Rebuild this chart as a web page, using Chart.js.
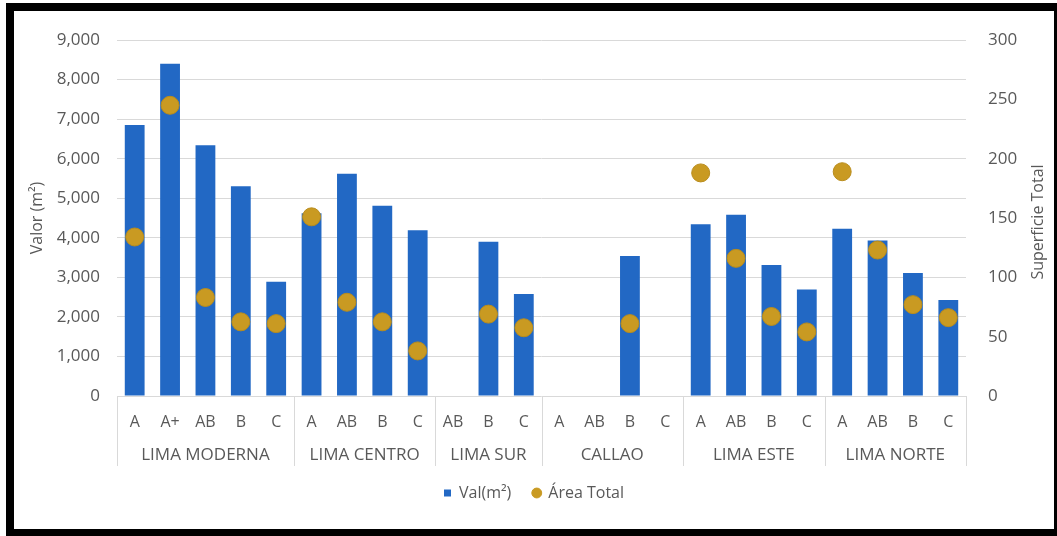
<!DOCTYPE html>
<html>
<head>
<meta charset="utf-8">
<script src="https://cdn.jsdelivr.net/npm/chart.js@4.4.1/dist/chart.umd.min.js"></script>
<style>
  html, body { margin: 0; padding: 0; background: #fff; }
  #wrap { position: relative; width: 1057px; height: 536px; overflow: hidden; }
  #frame {
    position: absolute; left: 6px; top: 3px; right: 0; bottom: 0;
    box-sizing: border-box; border-style: solid; border-color: #000;
    border-width: 8px 3px 7px 8px; pointer-events: none;
  }
</style>
</head>
<body>
<div id="wrap">
  <canvas id="c" width="1057" height="536"></canvas>
  <div id="frame"></div>
</div>
<script>
// Zones of Lima and how many grade columns each one has
const regions = ['LIMA MODERNA', 'LIMA CENTRO', 'LIMA SUR', 'CALLAO', 'LIMA ESTE', 'LIMA NORTE'];
const regionSizes = [5, 4, 3, 4, 4, 4];

// Grade of each column, in region order
const grades = ['A', 'A+', 'AB', 'B', 'C',
                'A', 'AB', 'B', 'C',
                'AB', 'B', 'C',
                'A', 'AB', 'B', 'C',
                'A', 'AB', 'B', 'C',
                'A', 'AB', 'B', 'C'];

// Value per m² (left axis)
const valM2 = [6850, 8400, 6340, 5300, 2890,
               4620, 5620, 4810, 4190,
               null, 3900, 2580,
               null, null, 3540, null,
               4340, 4580, 3310, 2690,
               4230, 3930, 3110, 2430];

// Total area (right axis)
const areaTotal = [134, 245, 83, 62.5, 61,
                   151, 79, 62.5, 38,
                   null, 69, 57.5,
                   null, null, 61, null,
                   188, 116, 67, 54,
                   189, 123, 77, 66];

const leftTicks = [0, 1000, 2000, 3000, 4000, 5000, 6000, 7000, 8000, 9000];
const rightTicks = [0, 50, 100, 150, 200, 250, 300];

const FONT = "'Open Sans', 'Noto Sans', sans-serif";
const TXT = '#595959';
const GRID = '#d9d9d9';
const BLUE = '#2268c4';
const GOLD = '#c99a22';

// Region labels, separators and the right-hand axis title
const groupAxis = {
  id: 'groupAxis',
  afterDraw(chart) {
    const ctx = chart.ctx;
    const x = chart.scales.x;
    const top = chart.chartArea.bottom;
    const lineBottom = 466;
    const half = (x.getPixelForValue(1) - x.getPixelForValue(0)) / 2;
    ctx.save();
    ctx.strokeStyle = GRID;
    ctx.lineWidth = 1;
    let idx = 0;
    const edges = [x.getPixelForValue(0) - half];
    regionSizes.forEach(n => { idx += n; edges.push(x.getPixelForValue(idx - 1) + half); });
    edges.forEach(px => {
      const p = Math.round(px) + 0.5;
      ctx.beginPath(); ctx.moveTo(p, top); ctx.lineTo(p, lineBottom); ctx.stroke();
    });
    ctx.fillStyle = TXT;
    ctx.font = '17px ' + FONT;
    ctx.textAlign = 'center';
    ctx.textBaseline = 'middle';
    regions.forEach((r, i) => {
      ctx.fillText(r, (edges[i] + edges[i + 1]) / 2, 455);
    });
    // right axis title, reading bottom to top
    ctx.translate(1038, (chart.chartArea.top + chart.chartArea.bottom) / 2 + 4);
    ctx.rotate(-Math.PI / 2);
    ctx.font = '16px ' + FONT;
    ctx.fillText('Superficie Total', 0, 0);
    ctx.restore();
  }
};

new Chart(document.getElementById('c'), {
  data: {
    labels: grades,
    datasets: [
      {
        type: 'bar',
        label: 'Val(m²)',
        data: valM2,
        yAxisID: 'y',
        backgroundColor: BLUE,
        barPercentage: 0.56,
        categoryPercentage: 1.0,
        order: 2
      },
      {
        type: 'line',
        label: 'Área Total',
        data: areaTotal,
        yAxisID: 'y1',
        showLine: false,
        pointRadius: 9,
        pointHoverRadius: 9,
        pointBackgroundColor: GOLD,
        pointBorderColor: '#b98c1c',
        pointBorderWidth: 1,
        backgroundColor: GOLD,
        borderColor: GOLD,
        order: 1
      }
    ]
  },
  options: {
    responsive: false,
    animation: false,
    layout: { padding: { left: 14, right: 3, top: 40, bottom: 25 } },
    plugins: {
      tooltip: { enabled: false },
      legend: {
        position: 'bottom',
        labels: {
          color: TXT,
          font: { family: FONT, size: 16 },
          usePointStyle: true,
          boxWidth: 7,
          boxHeight: 7,
          padding: 22,
          sort: (a, b) => a.datasetIndex - b.datasetIndex,
          generateLabels(chart) {
            const items = Chart.defaults.plugins.legend.labels.generateLabels(chart);
            items.forEach(it => {
              if (it.datasetIndex === 0) {
                it.pointStyle = 'rect'; it.fillStyle = BLUE; it.strokeStyle = BLUE;
              } else {
                it.pointStyle = 'circle'; it.fillStyle = GOLD; it.strokeStyle = GOLD;
              }
            });
            return items;
          }
        }
      }
    },
    scales: {
      x: {
        type: 'category',
        grid: { display: false },
        border: { display: false },
        ticks: { color: TXT, font: { family: FONT, size: 16 }, padding: 9, maxRotation: 0, autoSkip: false },
        afterFit(s) { s.height = 67; }
      },
      y: {
        type: 'linear',
        position: 'left',
        min: 0, max: 9000,
        afterBuildTicks(s) { s.ticks = leftTicks.map(v => ({ value: v })); },
        grid: { color: GRID, drawTicks: false },
        border: { display: false },
        ticks: {
          color: TXT, font: { family: FONT, size: 17 }, padding: 17,
          callback: v => v.toLocaleString('en-US')
        },
        title: { display: true, text: 'Valor (m²)', color: TXT, font: { family: FONT, size: 16 }, padding: { top: 14, bottom: 0 } },
        afterFit(s) { s.width = 103; }
      },
      y1: {
        type: 'linear',
        position: 'right',
        min: 0, max: 300,
        afterBuildTicks(s) { s.ticks = rightTicks.map(v => ({ value: v })); },
        grid: { display: false, drawTicks: false },
        border: { display: false },
        ticks: { color: TXT, font: { family: FONT, size: 17 }, padding: 22 },
        afterFit(s) { s.width = 88; }
      }
    }
  },
  plugins: [groupAxis]
});
</script>
</body>
</html>
